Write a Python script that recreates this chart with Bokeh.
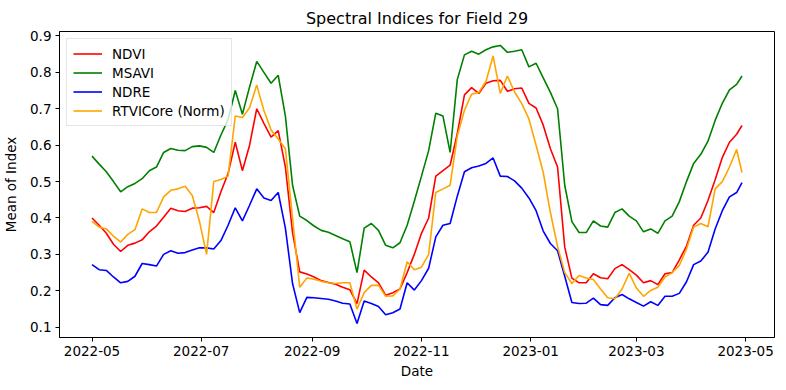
import pandas as pd
from bokeh.plotting import figure
from bokeh.models import Range1d, FixedTicker, Legend, LegendItem, CustomJSTickFormatter
from bokeh.embed import file_html
from bokeh.resources import INLINE

# ---- data ----
start_date = "2022-05-01"
day_offsets = list(range(0, 361, 4)) + [363]

msavi = [0.570, 0.548, 0.527, 0.500, 0.472, 0.486, 0.495, 0.508, 0.530, 0.540,
         0.580, 0.591, 0.586, 0.585, 0.596, 0.598, 0.594, 0.580, 0.628, 0.670,
         0.750, 0.685, 0.760, 0.830, 0.800, 0.770, 0.792, 0.680, 0.490, 0.405,
         0.393, 0.378, 0.366, 0.361, 0.352, 0.343, 0.335, 0.250, 0.372, 0.385,
         0.366, 0.325, 0.318, 0.332, 0.380, 0.446, 0.515, 0.585, 0.688, 0.680,
         0.580, 0.780, 0.848, 0.858, 0.850, 0.862, 0.870, 0.874, 0.855, 0.858,
         0.862, 0.815, 0.825, 0.785, 0.745, 0.700, 0.490, 0.390, 0.360, 0.360,
         0.392, 0.378, 0.375, 0.415, 0.425, 0.405, 0.392, 0.362, 0.370, 0.358,
         0.392, 0.405, 0.445, 0.500, 0.550, 0.575, 0.611, 0.668, 0.715, 0.752,
         0.767, 0.790]

ndvi = [0.400, 0.380, 0.358, 0.328, 0.308, 0.325, 0.331, 0.340, 0.362, 0.378,
        0.402, 0.427, 0.420, 0.418, 0.427, 0.428, 0.432, 0.415, 0.472, 0.522,
        0.608, 0.530, 0.600, 0.700, 0.660, 0.622, 0.640, 0.540, 0.360, 0.252,
        0.246, 0.238, 0.228, 0.223, 0.218, 0.210, 0.203, 0.165, 0.257, 0.238,
        0.222, 0.188, 0.195, 0.205, 0.250, 0.300, 0.358, 0.400, 0.515, 0.530,
        0.545, 0.632, 0.738, 0.758, 0.742, 0.770, 0.777, 0.778, 0.748, 0.755,
        0.757, 0.715, 0.702, 0.655, 0.590, 0.540, 0.320, 0.235, 0.222, 0.222,
        0.247, 0.236, 0.233, 0.261, 0.272, 0.258, 0.243, 0.222, 0.228, 0.217,
        0.247, 0.250, 0.285, 0.323, 0.380, 0.400, 0.448, 0.505, 0.566, 0.608,
        0.630, 0.654]

ndre = [0.272, 0.258, 0.256, 0.238, 0.222, 0.226, 0.240, 0.275, 0.272, 0.268,
        0.300, 0.310, 0.303, 0.305, 0.312, 0.318, 0.318, 0.315, 0.338, 0.380,
        0.428, 0.392, 0.435, 0.480, 0.455, 0.448, 0.470, 0.372, 0.220, 0.140,
        0.182, 0.181, 0.179, 0.177, 0.172, 0.166, 0.164, 0.110, 0.172, 0.165,
        0.157, 0.134, 0.140, 0.150, 0.222, 0.202, 0.228, 0.262, 0.348, 0.380,
        0.385, 0.460, 0.527, 0.538, 0.543, 0.550, 0.565, 0.515, 0.514, 0.502,
        0.482, 0.455, 0.420, 0.364, 0.330, 0.310, 0.240, 0.168, 0.165, 0.166,
        0.180, 0.162, 0.160, 0.181, 0.190, 0.178, 0.168, 0.158, 0.170, 0.160,
        0.185, 0.185, 0.193, 0.225, 0.272, 0.282, 0.306, 0.370, 0.420, 0.458,
        0.470, 0.497]

rtvicore = [0.391, 0.375, 0.370, 0.350, 0.334, 0.355, 0.368, 0.425, 0.415, 0.415,
            0.458, 0.476, 0.480, 0.487, 0.462, 0.391, 0.300, 0.500, 0.506, 0.515,
            0.680, 0.676, 0.703, 0.765, 0.695, 0.642, 0.617, 0.590, 0.400, 0.210,
            0.235, 0.232, 0.226, 0.222, 0.220, 0.222, 0.222, 0.150, 0.195, 0.215,
            0.215, 0.185, 0.186, 0.205, 0.280, 0.258, 0.265, 0.300, 0.470, 0.480,
            0.490, 0.625, 0.696, 0.740, 0.745, 0.775, 0.845, 0.742, 0.790, 0.746,
            0.714, 0.672, 0.600, 0.525, 0.415, 0.322, 0.250, 0.220, 0.242, 0.235,
            0.231, 0.205, 0.181, 0.178, 0.205, 0.248, 0.208, 0.185, 0.201, 0.210,
            0.238, 0.250, 0.270, 0.315, 0.375, 0.385, 0.376, 0.480, 0.500, 0.540,
            0.588, 0.525]

series_names = ["NDVI", "MSAVI", "NDRE", "RTVICore (Norm)"]
series_colors = ["red", "green", "blue", "orange"]

x_tick_labels = ["2022-05", "2022-07", "2022-09", "2022-11", "2023-01", "2023-03", "2023-05"]
y_ticks = [0.1, 0.2, 0.3, 0.4, 0.5, 0.6, 0.7, 0.8, 0.9]

title_text = "Spectral Indices for Field 29"
x_label = "Date"
y_label = "Mean of Index"

# ---- build ----
base = pd.Timestamp(start_date)
dates = [base + pd.Timedelta(days=d) for d in day_offsets]

span = day_offsets[-1] - day_offsets[0]
pad = 0.05 * span
x0 = base + pd.Timedelta(days=day_offsets[0] - pad)
x1 = base + pd.Timedelta(days=day_offsets[-1] + pad)

all_vals = msavi + ndvi + ndre + rtvicore
vmin, vmax = min(all_vals), max(all_vals)
vpad = 0.05 * (vmax - vmin)

FONT = "DejaVu Sans"

p = figure(
    output_backend="svg", toolbar_location=None,
    frame_width=715, frame_height=306,
    x_axis_type="datetime",
    x_range=Range1d(x0, x1), y_range=Range1d(vmin - vpad, vmax + vpad),
    min_border_left=57, min_border_right=2, min_border_top=31, min_border_bottom=45,
    title=title_text,
)
p.background_fill_color = "white"
p.border_fill_color = "white"
p.outline_line_color = "black"
p.outline_line_width = 1
p.xgrid.visible = False
p.ygrid.visible = False

p.title.align = "center"
p.title.text_font = FONT
p.title.text_font_size = "16px"
p.title.text_font_style = "normal"
p.title.text_color = "black"
p.title.standoff = 8

tick_ms = [pd.Timestamp(t + "-01").value // 10**6 for t in x_tick_labels]
p.xaxis.ticker = FixedTicker(ticks=tick_ms)
p.xaxis.formatter = CustomJSTickFormatter(code="""
const d = new Date(tick);
const m = d.getUTCMonth() + 1;
return d.getUTCFullYear() + "-" + (m < 10 ? "0" + m : "" + m);
""")
p.yaxis.ticker = FixedTicker(ticks=y_ticks)
p.yaxis.formatter = CustomJSTickFormatter(code="return tick.toFixed(1);")

for ax in (p.xaxis[0], p.yaxis[0]):
    ax.axis_line_color = "black"
    ax.major_tick_line_color = "black"
    ax.major_tick_out = 4
    ax.major_tick_in = 0
    ax.minor_tick_line_color = None
    ax.major_label_text_font = FONT
    ax.major_label_text_font_size = "13.5px"
    ax.major_label_text_color = "black"
    ax.axis_label_text_font = FONT
    ax.axis_label_text_font_size = "13.5px"
    ax.axis_label_text_font_style = "normal"
    ax.axis_label_text_color = "black"
    ax.major_label_standoff = 4

p.xaxis.axis_label = x_label
p.yaxis.axis_label = y_label
p.xaxis.axis_label_standoff = 4
p.yaxis.axis_label_standoff = 8

data_by_name = {"NDVI": ndvi, "MSAVI": msavi, "NDRE": ndre, "RTVICore (Norm)": rtvicore}
items = []
for name, color in zip(series_names, series_colors):
    r = p.line(dates, data_by_name[name], line_color=color, line_width=1.6)
    items.append(LegendItem(label=name, renderers=[r]))

legend = Legend(items=items, location="top_left")
legend.margin = 7
legend.padding = 6
legend.spacing = 2
legend.glyph_width = 29
legend.glyph_height = 17
legend.label_height = 17
legend.label_standoff = 10
legend.label_text_font = FONT
legend.label_text_font_size = "13.5px"
legend.label_text_color = "black"
legend.border_line_color = "#cccccc"
legend.border_line_width = 1
legend.background_fill_alpha = 0.8
p.add_layout(legend)

open("out.html", "w").write(file_html(p, INLINE))
